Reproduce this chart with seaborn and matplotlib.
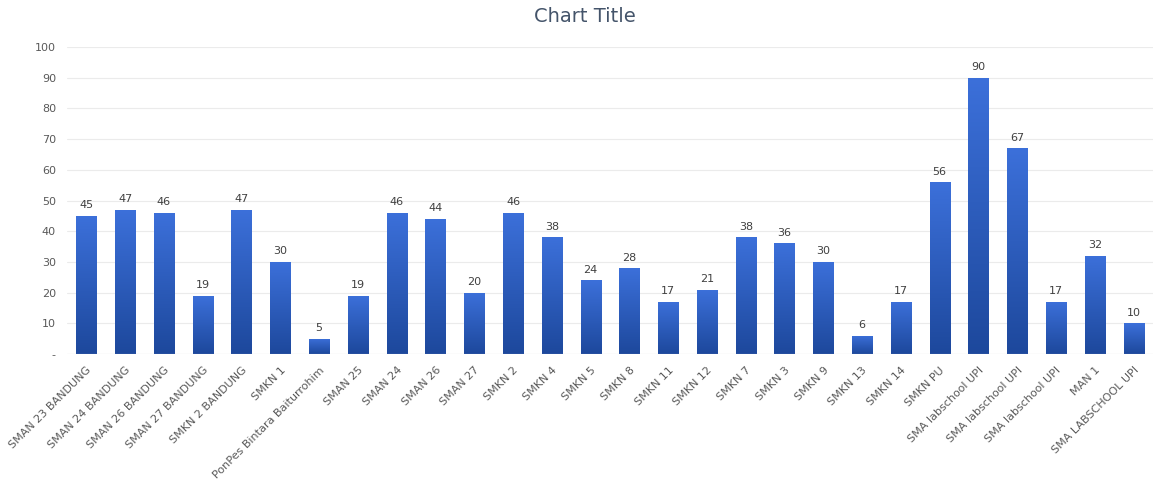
import numpy as np
import pandas as pd
import seaborn as sns
import matplotlib.pyplot as plt
from matplotlib.colors import LinearSegmentedColormap

schools = [
    "SMAN 23 BANDUNG", "SMAN 24 BANDUNG", "SMAN 26 BANDUNG", "SMAN 27 BANDUNG",
    "SMKN 2 BANDUNG", "SMKN 1", "PonPes Bintara Baiturrohim", "SMAN 25",
    "SMAN 24", "SMAN 26", "SMAN 27", "SMKN 2", "SMKN 4", "SMKN 5", "SMKN 8",
    "SMKN 11", "SMKN 12", "SMKN 7", "SMKN 3", "SMKN 9", "SMKN 13", "SMKN 14",
    "SMKN PU", "SMA labschool UPI", "SMA labschool UPI", "SMA labschool UPI",
    "MAN 1", "SMA LABSCHOOL UPI",
]
counts = [45, 47, 46, 19, 47, 30, 5, 19, 46, 44, 20, 46, 38, 24, 28,
          17, 21, 38, 36, 30, 6, 17, 56, 90, 67, 17, 32, 10]
y_ticks = [0, 10, 20, 30, 40, 50, 60, 70, 80, 90, 100]
y_tick_labels = ["-", "10", "20", "30", "40", "50", "60", "70", "80", "90", "100"]

df = pd.DataFrame({"pos": range(len(schools)), "count": counts})

sns.set_style("white")
fig = plt.figure(figsize=(11.53, 4.86), dpi=100)
n = len(schools)
left_px, right_px = 67, 1153
ax = fig.add_axes([left_px / 1153, (486 - 354) / 486,
                   (right_px - left_px) / 1153, 307 / 486])

sns.barplot(data=df, x="pos", y="count", color="#2a5bc0", width=0.52, ax=ax)

# vertical gradient fill on bars
cmap = LinearSegmentedColormap.from_list("g", ["#1d489c", "#3c70da"])
grad = np.linspace(0, 1, 256).reshape(-1, 1)
for p in ax.patches:
    x0, w, h = p.get_x(), p.get_width(), p.get_height()
    im = ax.imshow(grad, extent=[x0, x0 + w, 0, h], origin="lower",
                   cmap=cmap, aspect="auto", zorder=p.get_zorder())
    im.set_clip_path(p)
    p.set_facecolor("none")
    p.set_edgecolor("none")

for i, v in enumerate(counts):
    ax.text(i, v + 1.8, str(v), ha="center", va="bottom", fontsize=8,
            color="#404040")

ax.set_xlim(-0.5, n - 0.5)
ax.set_ylim(0, 100)
ax.set_yticks(y_ticks)
ax.set_yticklabels(y_tick_labels, fontsize=8, color="#595959")
ax.set_xticks(range(n))
ax.set_xticklabels(schools, rotation=45, ha="right", rotation_mode="anchor",
                   fontsize=8, color="#595959")
ax.tick_params(axis="both", length=0, pad=8)
ax.yaxis.grid(True, color="#ebebeb", linewidth=0.8)
ax.set_axisbelow(True)
ax.set_xlabel("")
ax.set_ylabel("")
sns.despine(ax=ax, left=True, bottom=True)
ax.axhline(0, color="#d9d9d9", linewidth=0.8)

fig.text(0.507, 1 - 22 / 486, "Chart Title", ha="center", va="baseline",
         fontsize=14, color="#44546a")

fig.savefig("out.png", dpi=100)
